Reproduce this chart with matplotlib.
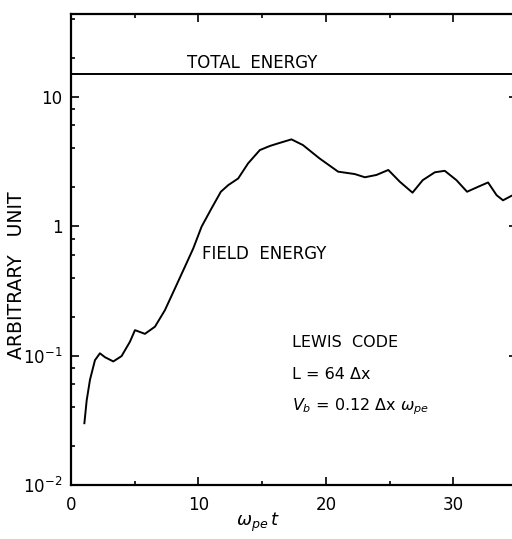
import numpy as np
import matplotlib.pyplot as plt
from matplotlib.ticker import FixedLocator, FixedFormatter

# field energy
t = [1.05, 1.23, 1.49, 1.88, 2.27, 2.67, 3.32, 3.97, 4.63, 5.02, 5.8, 6.59,
     7.37, 8.16, 8.94, 9.59, 10.25, 11.03, 11.76, 12.34, 13.12, 13.9, 14.82,
     15.6, 16.26, 17.3, 18.2, 19.5, 20.96, 22.27, 23.06, 23.97, 24.9, 25.8,
     26.8, 27.6, 28.55, 29.33, 30.25, 31.08, 31.95, 32.73, 33.4, 33.9, 34.56]
field = [0.030, 0.045, 0.065, 0.092, 0.104, 0.097, 0.090, 0.099, 0.128, 0.157,
         0.147, 0.167, 0.224, 0.33, 0.485, 0.67, 0.99, 1.37, 1.84, 2.07, 2.33,
         3.05, 3.86, 4.15, 4.35, 4.67, 4.22, 3.33, 2.63, 2.52, 2.38, 2.48, 2.71,
         2.2, 1.81, 2.26, 2.6, 2.67, 2.26, 1.84, 2.01, 2.17, 1.73, 1.58, 1.71]
total_energy = 14.9

xticks = [0, 10, 20, 30]
yticks = [0.01, 0.1, 1, 10]
ytick_labels = ['$10^{-2}$', '$10^{-1}$', '1', '10']

plt.rcParams['font.family'] = 'DejaVu Sans'
plt.rcParams['mathtext.fontset'] = 'dejavusans'

fig = plt.figure(figsize=(5.12, 5.39), dpi=100)
ax = fig.add_axes([71/512, 54/539, 446/512, 471/539])

ax.plot(t, field, color='black', lw=1.4)
ax.axhline(total_energy, color='black', lw=1.4)

ax.set_yscale('log')
ax.set_xlim(0, 35)
ax.set_ylim(0.01, 43.4)

ax.xaxis.set_major_locator(FixedLocator(xticks))
ax.xaxis.set_minor_locator(FixedLocator([5, 15, 25, 35]))
ax.yaxis.set_major_locator(FixedLocator(yticks))
ax.yaxis.set_major_formatter(FixedFormatter(ytick_labels))
minors = [m * 10.0**e for e in range(-2, 2) for m in (2, 4, 6, 8)]
ax.yaxis.set_minor_locator(FixedLocator(minors))
ax.yaxis.set_minor_formatter(FixedFormatter([''] * len(minors)))

ax.tick_params(which='both', direction='in', top=True, right=True,
               width=1.2, labelsize=12)
ax.tick_params(which='major', length=6)
ax.tick_params(which='minor', length=3)
ax.tick_params(axis='x', pad=8)
ax.tick_params(axis='y', pad=6)
for s in ax.spines.values():
    s.set_linewidth(1.6)

ax.set_xlabel(r'$\omega_{pe}\,t$', fontsize=13)
ax.xaxis.set_label_coords(0.42, -0.055)
ax.set_ylabel('ARBITRARY   UNIT', fontsize=13.5)
ax.yaxis.set_label_coords(-0.1, 0.446)

ax.text(9.1, 16.5, 'TOTAL  ENERGY', fontsize=12)
ax.text(10.3, 0.556, 'FIELD  ENERGY', fontsize=12)
ax.text(17.35, 0.116, 'LEWIS  CODE', fontsize=11.5)
ax.text(17.35, 0.0655, 'L = 64 Δx', fontsize=11.5)
ax.text(17.35, 0.038, r'$V_b$ = 0.12 Δx $\omega_{pe}$', fontsize=11.5)

fig.savefig('out.png', dpi=100)
